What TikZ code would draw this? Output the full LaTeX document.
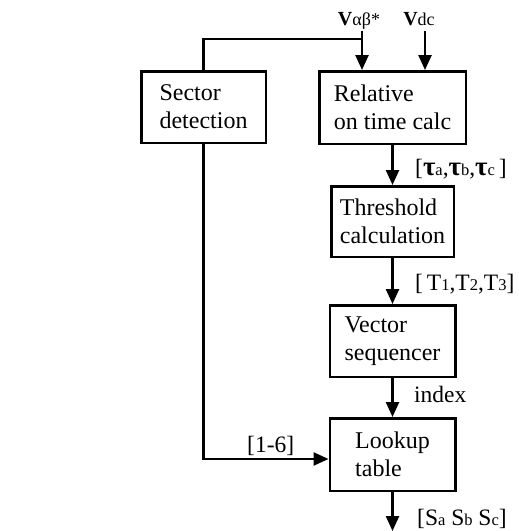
\documentclass[tikz,border=0pt]{standalone}
\usepackage{fontspec}
\setmainfont{Liberation Serif}
\usetikzlibrary{arrows.meta}
\newcommand\subtx[1]{{\fontsize{16.5}{18}\selectfont #1}}
\newcommand\bigtau{{\fontsize{27}{27}\selectfont\bfseries τ}}
\begin{document}
\begin{tikzpicture}[x=1pt,y=-1pt,
  blk/.style={draw, line width=2.5pt, inner sep=0pt, align=left, font=\fontsize{24}{28}\selectfont},
  lbl/.style={inner sep=0pt, anchor=base west, font=\fontsize{23.5}{27}\selectfont},
  conn/.style={line width=2.5pt},
  arr/.style={conn, -{Triangle[length=15pt,width=13pt]}}]
\useasboundingbox (0,0) rectangle (519,531);
\node[blk, minimum width=124.5pt, minimum height=71.5pt] (sector) at (203.5,107) {Sector\\detection};
\node[blk, minimum width=146.5pt, minimum height=72.5pt] (relative) at (392.5,107.5) {Relative\\on time calc};
\node[blk, minimum width=122.5pt, minimum height=70.5pt] (threshold) at (392.5,221.5) {Threshold\\calculation};
\node[blk, minimum width=125.5pt, minimum height=71.5pt] (vector) at (392.5,341) {Vector\\sequencer};
\node[blk, minimum width=125.5pt, minimum height=72.5pt] (lookup) at (392.5,454.5) {Lookup\\table};

\coordinate (vabin) at (362,31);
\coordinate (vdcin) at (425,31);
\coordinate (junc) at (362,39);
\coordinate (lk) at (203.5,459);
\coordinate (outend) at (392.5,531);

\draw[conn] (sector.north) |- (junc);
\draw[arr] (vabin) -- (vabin |- relative.north);
\draw[arr] (vdcin) -- (vdcin |- relative.north);
\draw[arr] (relative.south) -- (threshold.north);
\draw[arr] (threshold.south) -- (vector.north);
\draw[arr] (vector.south) -- (lookup.north);
\draw[arr] (lookup.south) -- (outend);
\draw[arr] (sector.south) |- (lookup.west |- lk);

\node[lbl, anchor=base] (lvab) at (359,25) {{\fontsize{20}{24}\selectfont\bfseries V}{\fontsize{18}{20}\selectfont αβ*}};
\node[lbl, anchor=base] (lvdc) at (419,25) {{\fontsize{20}{24}\selectfont\bfseries V}{\fontsize{18}{20}\selectfont dc}};
\node[lbl] (ltau) at (415,175) {[\bigtau\subtx{a},\bigtau\subtx{b},\bigtau\subtx{c}\,]};
\node[lbl] (lT) at (415,290) {[\,T\subtx{1},T\subtx{2},T\subtx{3}]};
\node[lbl] (lidx) at (414,402) {index};
\node[lbl] (l16) at (247,452) {[1-6]};
\node[lbl] (lS) at (417,525) {[S\subtx{a} S\subtx{b} S\subtx{c}]};
\end{tikzpicture}
\end{document}
